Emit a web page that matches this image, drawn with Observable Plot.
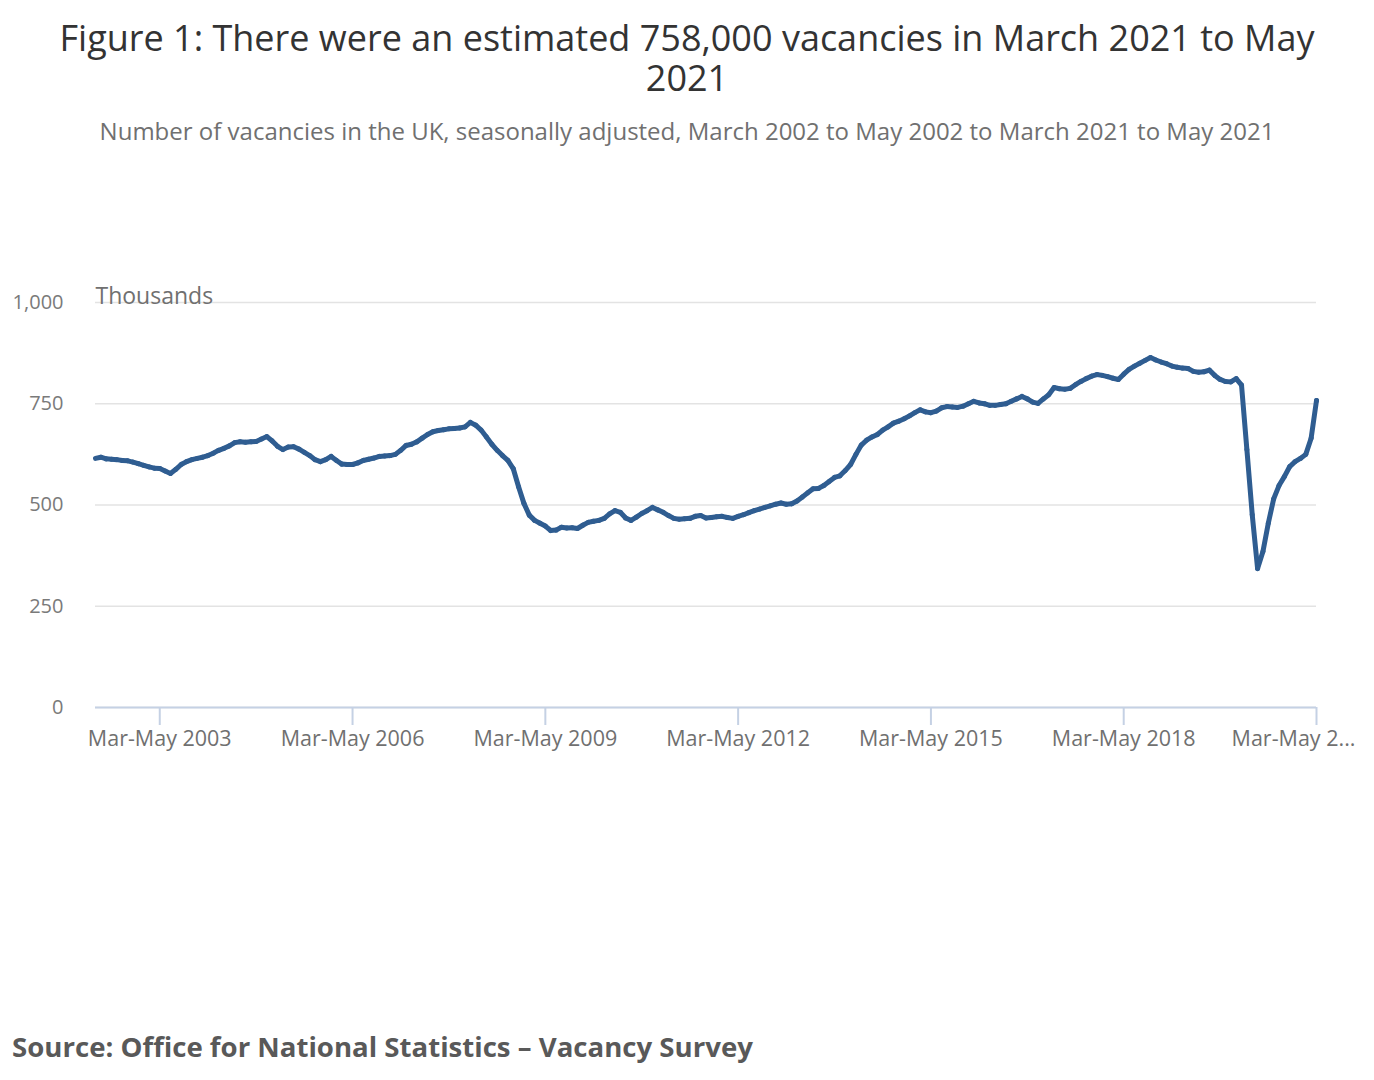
<!DOCTYPE html>
<html>
<head>
<meta charset="utf-8">
<script src="https://cdn.jsdelivr.net/npm/d3@7"></script>
<script src="https://cdn.jsdelivr.net/npm/@observablehq/plot@0.6"></script>
<style>
  html, body { margin: 0; padding: 0; background: #fff; }
  #page { position: relative; width: 1374px; height: 1080px; font-family: "Open Sans", sans-serif; }
  #title { position: absolute; top: 18px; left: 0; width: 1374px; text-align: center; font-size: 36px; line-height: 40px; color: #333333; }
  #subtitle { position: absolute; top: 117px; left: 0; width: 1374px; text-align: center; font-size: 24px; line-height: 28px; color: #707070; }
  #chart { position: absolute; top: 260px; left: 0; }
  #source { position: absolute; top: 1030px; left: 12px; font-size: 27.6px; line-height: 32px; font-weight: bold; color: #595959; }
</style>
</head>
<body>
<div id="page">
  <div id="title">Figure 1: There were an estimated 758,000 vacancies in March 2021 to May<br>2021</div>
  <div id="subtitle">Number of vacancies in the UK, seasonally adjusted, March 2002 to May 2002 to March 2021 to May 2021</div>
  <div id="chart"></div>
  <div id="source">Source: Office for National Statistics – Vacancy Survey</div>
</div>
<script>
// Rolling three-month periods, index 0 = Mar-May 2002 ... index 228 = Mar-May 2021
const firstYear = 2002;
const monthNames = ["Jan","Feb","Mar","Apr","May","Jun","Jul","Aug","Sep","Oct","Nov","Dec"];

// Vacancies, thousands
const vacancies = [
  615, 618, 614, 613, 612, 610, 609, 606, 602, 598, 594, 591, 590, 584, 578,
  588, 600, 607, 612, 615, 618, 622, 628, 635, 640, 646, 654, 656, 655, 656,
  657, 663, 669, 658, 645, 637, 643, 644, 638, 630, 622, 612, 607, 612, 620,
  610, 601, 600, 600, 604, 610, 613, 616, 620, 621, 622, 625, 635, 647, 650,
  656, 665, 674, 681, 684, 686, 688, 689, 690, 693, 704, 697, 685, 668, 650,
  635, 622, 610, 590, 545, 504, 475, 462, 455, 448, 437, 438, 445, 443, 444,
  442, 450, 457, 460, 462, 467, 478, 486, 482, 468, 462, 470, 479, 486, 494,
  488, 482, 474, 467, 465, 466, 467, 472, 474, 468, 469, 471, 472, 469, 467,
  472, 476, 481, 486, 490, 494, 498, 502, 505, 502, 503, 510, 520, 530, 540,
  541, 548, 558, 568, 572, 585, 600, 625, 648, 660, 668, 674, 685, 693, 702,
  707, 713, 720, 728, 735, 730, 728, 732, 740, 743, 742, 741, 744, 750, 756,
  752, 750, 746, 746, 748, 750, 756, 762, 768, 762, 754, 751, 762, 772, 790,
  787, 786, 788, 797, 805, 812, 818, 822, 820, 817, 813, 810, 823, 835, 843,
  850, 857, 864, 858, 853, 849, 843, 840, 838, 837, 830, 828, 829, 833, 820,
  810, 805, 804, 812, 796, 637, 476, 343, 385, 455, 515, 548, 570, 595, 607,
  615, 625, 665, 758
];

const yTicks = [0, 250, 500, 750, 1000];
const xTickIndex = [12, 48, 84, 120, 156, 192, 228];
const xTickLabels = ["Mar-May 2003", "Mar-May 2006", "Mar-May 2009", "Mar-May 2012", "Mar-May 2015", "Mar-May 2018", "Mar-May 2..."];

function periodLabel(i) {
  const m0 = 2 + i; // March = 2
  const m2 = m0 + 2;
  const y2 = firstYear + Math.floor(m2 / 12);
  return monthNames[m0 % 12] + "-" + monthNames[m2 % 12] + " " + y2;
}

const data = vacancies.map((v, i) => ({i, period: periodLabel(i), value: v}));

const axisColor = "#c5d1e4";
const textColor = "#707070";

const chart = Plot.plot({
  width: 1374,
  height: 500,
  marginLeft: 95,
  marginRight: 58,
  marginTop: 42,
  marginBottom: 53,
  style: {fontFamily: "'Open Sans', sans-serif", background: "transparent", overflow: "visible"},
  x: {domain: [0, vacancies.length - 1]},
  y: {domain: [0, 1000]},
  marks: [
    Plot.gridY(yTicks, {stroke: "#e3e3e3", strokeOpacity: 1, strokeWidth: 1.5}),
    Plot.axisY(yTicks, {
      tickSize: 0, tickPadding: 32, tickFormat: d3.format(","),
      fontSize: 20, fill: "#7a7a7a", label: null
    }),
    Plot.text(["Thousands"], {
      frameAnchor: "top-left", dy: -15, textAnchor: "start",
      fontSize: 23, fill: textColor
    }),
    Plot.ruleY([0], {stroke: axisColor, strokeWidth: 2}),
    Plot.axisX(xTickIndex, {
      tickSize: 18, tickPadding: 5, stroke: axisColor, strokeWidth: 2,
      tickFormat: d => d === 228 ? "" : xTickLabels[xTickIndex.indexOf(d)],
      fontSize: 21.5, fill: textColor, label: null
    }),
    Plot.text([228], {
      x: d => d, frameAnchor: "bottom", dy: 38, dx: -23,
      text: d => xTickLabels[xTickIndex.indexOf(d)],
      fontSize: 21.5, fill: textColor
    }),
    Plot.line(data, {
      x: "i", y: "value", stroke: "#2f5d91", strokeWidth: 5,
      strokeLinejoin: "round", strokeLinecap: "round", title: d => d.period + ": " + d.value
    })
  ]
});
document.getElementById("chart").appendChild(chart);
</script>
</body>
</html>
